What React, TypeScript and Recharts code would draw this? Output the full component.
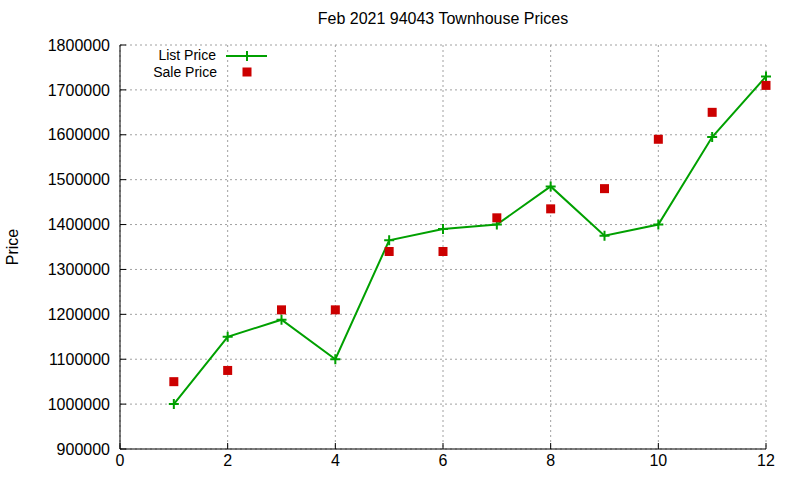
import { ComposedChart, Line, Scatter, XAxis, YAxis, CartesianGrid } from 'recharts'

const months = [1, 2, 3, 4, 5, 6, 7, 8, 9, 10, 11, 12]
const listPrice = [1000000, 1150000, 1188000, 1100000, 1365000, 1390000, 1400000, 1485000, 1375000, 1400000, 1595000, 1730000]
const salePrice = [1050000, 1075000, 1210000, 1210000, 1340000, 1340000, 1415000, 1435000, 1480000, 1590000, 1650000, 1710000]
const xTicks = [0, 2, 4, 6, 8, 10, 12]
const yTicks = [900000, 1000000, 1100000, 1200000, 1300000, 1400000, 1500000, 1600000, 1700000, 1800000]

const chartData = months.map((m, i) => ({ month: m, list: listPrice[i], sale: salePrice[i] }))

const font = '"Liberation Sans", Arial, sans-serif'
const textColor = '#000000'
const gridColor = '#a0a0a0'
const listColor = '#00a000'
const saleColor = '#cc0000'
const tickStyle = { fill: textColor, fontSize: 16, fontFamily: font }

const PlusDot = (props: any) => {
  const { cx, cy } = props
  if (cx == null || cy == null) return null
  return (
    <path
      d={`M${cx - 5},${cy}H${cx + 5}M${cx},${cy - 5}V${cy + 5}`}
      stroke={listColor}
      strokeWidth={2}
      fill="none"
    />
  )
}

const SquareDot = (props: any) => {
  const { cx, cy } = props
  if (cx == null || cy == null) return null
  return <rect x={cx - 4.5} y={cy - 4.5} width={9} height={9} fill={saleColor} />
}

export default function App() {
  return (
    <div style={{ position: 'absolute', left: 0, top: 0, width: 800, height: 480, background: '#fff' }}>
      <div
        style={{
          position: 'absolute',
          left: 120,
          width: 646,
          top: 10,
          textAlign: 'center',
          fontFamily: font,
          fontSize: 16,
          lineHeight: '18px',
          color: textColor,
        }}
      >
        Feb 2021 94043 Townhouse Prices
      </div>
      <ComposedChart width={800} height={480} data={chartData} margin={{ top: 45, right: 34, left: 0, bottom: 0 }}>
        <CartesianGrid strokeDasharray="2 3" stroke={gridColor} />
        <XAxis
          dataKey="month"
          type="number"
          domain={[0, 12]}
          ticks={xTicks}
          height={31}
          tick={tickStyle}
          tickSize={-6}
          tickMargin={12}
          axisLine={{ stroke: '#000' }}
          tickLine={{ stroke: '#000' }}
        />
        <XAxis
          xAxisId="top"
          orientation="top"
          type="number"
          domain={[0, 12]}
          ticks={xTicks}
          height={0}
          tickSize={-6}
          tickFormatter={() => ''}
          axisLine={{ stroke: '#000' }}
          tickLine={{ stroke: '#000' }}
        />
        <YAxis
          type="number"
          domain={[900000, 1800000]}
          ticks={yTicks}
          width={120}
          tick={tickStyle}
          tickSize={-6}
          tickMargin={16}
          axisLine={{ stroke: '#000' }}
          tickLine={{ stroke: '#000' }}
          label={{
            value: 'Price',
            angle: -90,
            position: 'insideLeft',
            offset: 12,
            style: { textAnchor: 'middle', fill: textColor, fontFamily: font, fontSize: 16 },
          }}
        />
        <YAxis
          yAxisId="right"
          orientation="right"
          type="number"
          domain={[900000, 1800000]}
          ticks={yTicks}
          width={0}
          tickSize={-6}
          tickFormatter={() => ''}
          axisLine={{ stroke: '#000' }}
          tickLine={{ stroke: '#000' }}
        />
        <Line
          type="linear"
          dataKey="list"
          stroke={listColor}
          strokeWidth={2}
          dot={<PlusDot />}
          activeDot={false}
          isAnimationActive={false}
        />
        <Scatter dataKey="sale" fill={saleColor} shape={<SquareDot />} isAnimationActive={false} />
      </ComposedChart>
      <div style={{ position: 'absolute', left: 120, top: 47, width: 160, height: 36, fontFamily: font, fontSize: 14 }}>
        <div style={{ position: 'absolute', right: 64, top: 0, lineHeight: '16px', whiteSpace: 'nowrap' }}>List Price</div>
        <div style={{ position: 'absolute', right: 63, top: 17, lineHeight: '16px', whiteSpace: 'nowrap' }}>Sale Price</div>
        <svg style={{ position: 'absolute', left: 0, top: 0 }} width={160} height={36}>
          <line x1={106} x2={147} y1={9} y2={9} stroke={listColor} strokeWidth={2} />
          <path d="M122,9H132M127,4V14" stroke={listColor} strokeWidth={2} />
          <rect x={122.5} y={20.5} width={9} height={9} fill={saleColor} />
        </svg>
      </div>
    </div>
  )
}
